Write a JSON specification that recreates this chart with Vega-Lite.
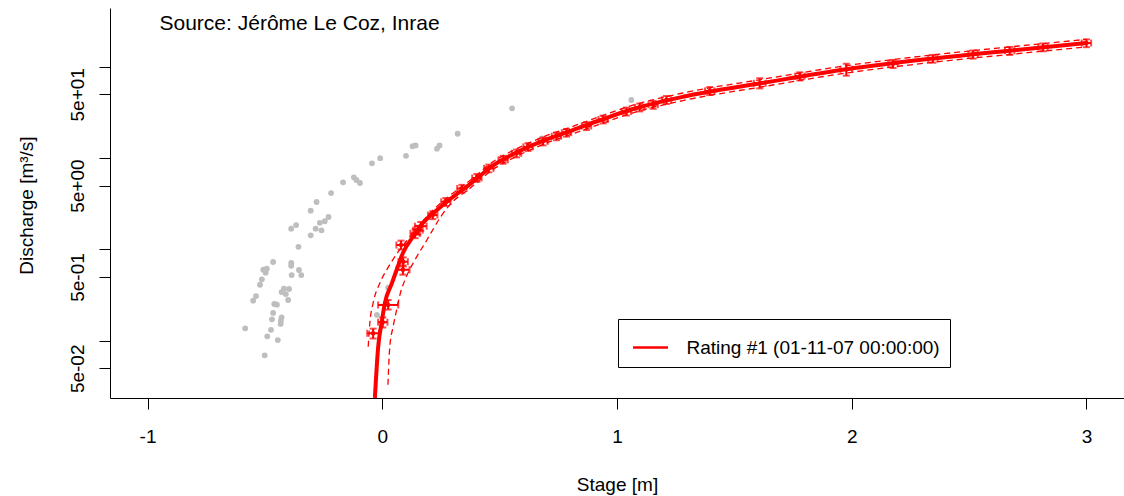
{
  "$schema": "https://vega.github.io/schema/vega-lite/v6.json",
  "width": 1014,
  "height": 390,
  "autosize": "none",
  "padding": {"left": 110, "top": 8, "right": 0, "bottom": 98},
  "background": "white",
  "config": {
    "font": "Liberation Sans",
    "view": {"stroke": null},
    "axis": {"grid": false, "domainColor": "black", "domainWidth": 1, "tickColor": "black", "tickSize": 11, "labelColor": "black", "labelFontSize": 19, "titleFontSize": 19, "titleFontWeight": "normal", "titleColor": "black", "labelFont": "Liberation Sans", "titleFont": "Liberation Sans"}
  },
  "title": {"text": "Source: Jérôme Le Coz, Inrae", "anchor": "start", "frame": "group", "orient": "top", "offset": 0, "dx": 49.5, "dy": 43, "baseline": "alphabetic", "fontSize": 21, "fontWeight": "normal", "color": "black", "font": "Liberation Sans"},
  "datasets": {
    "gray": [
      {"h": 0.321, "Q": 18.5}, {"h": 0.129, "Q": 13.5}, {"h": 0.142, "Q": 13.8}, {"h": 0.233, "Q": 12.7}, {"h": 0.244, "Q": 13.8},
      {"h": 0.101, "Q": 10.6}, {"h": -0.009, "Q": 10.0}, {"h": -0.044, "Q": 8.78}, {"h": -0.121, "Q": 6.17}, {"h": -0.110, "Q": 5.76},
      {"h": -0.095, "Q": 5.35}, {"h": -0.167, "Q": 5.44}, {"h": -0.218, "Q": 4.15}, {"h": -0.280, "Q": 3.31}, {"h": -0.305, "Q": 2.66},
      {"h": -0.229, "Q": 2.27}, {"h": -0.245, "Q": 2.04}, {"h": -0.266, "Q": 1.96}, {"h": -0.284, "Q": 1.69}, {"h": -0.259, "Q": 1.62},
      {"h": -0.367, "Q": 1.85}, {"h": -0.388, "Q": 1.69}, {"h": -0.305, "Q": 1.43}, {"h": -0.357, "Q": 1.07}, {"h": -0.465, "Q": 0.729},
      {"h": -0.492, "Q": 0.616}, {"h": -0.507, "Q": 0.60}, {"h": -0.497, "Q": 0.557}, {"h": -0.388, "Q": 0.711}, {"h": -0.388, "Q": 0.664},
      {"h": -0.355, "Q": 0.596}, {"h": -0.345, "Q": 0.525}, {"h": -0.386, "Q": 0.525}, {"h": -0.513, "Q": 0.471}, {"h": -0.521, "Q": 0.411},
      {"h": -0.419, "Q": 0.372}, {"h": -0.397, "Q": 0.369}, {"h": -0.429, "Q": 0.342}, {"h": -0.411, "Q": 0.325}, {"h": -0.401, "Q": 0.280},
      {"h": -0.538, "Q": 0.309}, {"h": -0.550, "Q": 0.275}, {"h": -0.460, "Q": 0.253}, {"h": -0.449, "Q": 0.249}, {"h": -0.465, "Q": 0.202},
      {"h": -0.429, "Q": 0.181}, {"h": -0.432, "Q": 0.166}, {"h": -0.470, "Q": 0.172}, {"h": -0.433, "Q": 0.153}, {"h": -0.474, "Q": 0.132},
      {"h": -0.584, "Q": 0.137}, {"h": -0.490, "Q": 0.112}, {"h": -0.445, "Q": 0.102}, {"h": -0.501, "Q": 0.0694}, {"h": 0.025, "Q": 0.381},
      {"h": -0.023, "Q": 0.192}, {"h": 0.553, "Q": 35.1}, {"h": 0.681, "Q": 16.5}, {"h": 1.061, "Q": 43.3}
    ],
    "curve": [
      {"h": -0.0315, "Q": 0.0237}, {"h": -0.0175, "Q": 0.0856}, {"h": -0.003, "Q": 0.157}, {"h": 0.011, "Q": 0.259}, {"h": 0.04, "Q": 0.42},
      {"h": 0.061, "Q": 0.596}, {"h": 0.088, "Q": 0.915}, {"h": 0.13, "Q": 1.37}, {"h": 0.173, "Q": 1.95}, {"h": 0.233, "Q": 2.70},
      {"h": 0.288, "Q": 3.55}, {"h": 0.37, "Q": 5.1}, {"h": 0.471, "Q": 8.3}, {"h": 0.573, "Q": 11.6}, {"h": 0.684, "Q": 15.5},
      {"h": 0.812, "Q": 20.3}, {"h": 0.927, "Q": 26}, {"h": 1.068, "Q": 34.5}, {"h": 1.281, "Q": 47}, {"h": 1.62, "Q": 66.5},
      {"h": 1.978, "Q": 94}, {"h": 2.345, "Q": 123}, {"h": 2.702, "Q": 153}, {"h": 3.0, "Q": 182}
    ],
    "upper": [
      {"h": -0.060, "Q": 0.086}, {"h": -0.053, "Q": 0.157}, {"h": -0.039, "Q": 0.259}, {"h": -0.010, "Q": 0.43}, {"h": 0.024, "Q": 0.63},
      {"h": 0.075, "Q": 1.0}, {"h": 0.139, "Q": 1.6}, {"h": 0.2, "Q": 2.45}, {"h": 0.288, "Q": 3.9}, {"h": 0.37, "Q": 5.6},
      {"h": 0.471, "Q": 9.1}, {"h": 0.573, "Q": 12.7}, {"h": 0.684, "Q": 17}, {"h": 0.812, "Q": 22.3}, {"h": 0.927, "Q": 28.6},
      {"h": 1.068, "Q": 38}, {"h": 1.281, "Q": 51.7}, {"h": 1.62, "Q": 73}, {"h": 1.978, "Q": 103}, {"h": 2.345, "Q": 135},
      {"h": 2.702, "Q": 168}, {"h": 3.0, "Q": 200}
    ],
    "lower": [
      {"h": 0.024, "Q": 0.033}, {"h": 0.032, "Q": 0.086}, {"h": 0.046, "Q": 0.142}, {"h": 0.061, "Q": 0.217}, {"h": 0.075, "Q": 0.317},
      {"h": 0.1, "Q": 0.487}, {"h": 0.139, "Q": 0.767}, {"h": 0.19, "Q": 1.27}, {"h": 0.25, "Q": 2.3}, {"h": 0.288, "Q": 3.1},
      {"h": 0.37, "Q": 4.6}, {"h": 0.471, "Q": 7.5}, {"h": 0.573, "Q": 10.5}, {"h": 0.684, "Q": 14.1}, {"h": 0.812, "Q": 18.5},
      {"h": 0.927, "Q": 23.6}, {"h": 1.068, "Q": 31.4}, {"h": 1.281, "Q": 42.7}, {"h": 1.62, "Q": 60.5}, {"h": 1.978, "Q": 85.5},
      {"h": 2.345, "Q": 112}, {"h": 2.702, "Q": 139}, {"h": 3.0, "Q": 165}
    ],
    "gaugings": [
      {"h": -0.039, "Q": 0.121, "hlo": -0.064, "hhi": -0.014, "Qlo": 0.106, "Qhi": 0.136},
      {"h": 0.025, "Q": 0.247, "hlo": -0.018, "hhi": 0.068, "Qlo": 0.22, "Qhi": 0.28},
      {"h": 0.002, "Q": 0.16, "hlo": -0.018, "hhi": 0.022, "Qlo": 0.14, "Qhi": 0.18},
      {"h": 0.088, "Q": 0.60, "hlo": 0.06, "hhi": 0.116, "Qlo": 0.53, "Qhi": 0.67},
      {"h": 0.089, "Q": 0.735, "hlo": 0.069, "hhi": 0.109, "Qlo": 0.65, "Qhi": 0.82},
      {"h": 0.08, "Q": 1.12, "hlo": 0.06, "hhi": 0.1, "Qlo": 1.0, "Qhi": 1.25},
      {"h": 0.152, "Q": 1.63, "hlo": 0.132, "hhi": 0.172, "Qlo": 1.45, "Qhi": 1.82},
      {"h": 0.164, "Q": 1.8, "hlo": 0.139, "hhi": 0.189, "Qlo": 1.6, "Qhi": 2.0},
      {"h": 0.14, "Q": 1.5, "hlo": 0.12, "hhi": 0.16, "Qlo": 1.33, "Qhi": 1.67},
      {"h": 0.215, "Q": 2.38, "hlo": 0.195, "hhi": 0.235, "Qlo": 2.15, "Qhi": 2.62},
      {"h": 0.271, "Q": 3.33, "hlo": 0.251, "hhi": 0.291, "Qlo": 3.0, "Qhi": 3.66},
      {"h": 0.339, "Q": 4.65, "hlo": 0.319, "hhi": 0.359, "Qlo": 4.2, "Qhi": 5.1},
      {"h": 0.403, "Q": 6.06, "hlo": 0.383, "hhi": 0.423, "Qlo": 5.5, "Qhi": 6.7},
      {"h": 0.454, "Q": 7.74, "hlo": 0.434, "hhi": 0.474, "Qlo": 7.0, "Qhi": 8.5},
      {"h": 0.515, "Q": 9.6, "hlo": 0.495, "hhi": 0.535, "Qlo": 8.7, "Qhi": 10.6},
      {"h": 0.572, "Q": 11.3, "hlo": 0.552, "hhi": 0.592, "Qlo": 10.2, "Qhi": 12.4},
      {"h": 0.621, "Q": 13.3, "hlo": 0.601, "hhi": 0.641, "Qlo": 12.0, "Qhi": 14.6},
      {"h": 0.685, "Q": 15.3, "hlo": 0.665, "hhi": 0.705, "Qlo": 13.8, "Qhi": 16.8},
      {"h": 0.742, "Q": 17.4, "hlo": 0.722, "hhi": 0.762, "Qlo": 15.7, "Qhi": 19.1},
      {"h": 0.785, "Q": 19.0, "hlo": 0.765, "hhi": 0.805, "Qlo": 17.2, "Qhi": 20.9},
      {"h": 0.870, "Q": 22.5, "hlo": 0.85, "hhi": 0.89, "Qlo": 20.3, "Qhi": 24.7},
      {"h": 0.941, "Q": 26.5, "hlo": 0.921, "hhi": 0.961, "Qlo": 24.0, "Qhi": 29.2},
      {"h": 1.04, "Q": 32.5, "hlo": 1.02, "hhi": 1.06, "Qlo": 29.3, "Qhi": 35.8},
      {"h": 1.097, "Q": 36, "hlo": 1.077, "hhi": 1.117, "Qlo": 32.5, "Qhi": 39.6},
      {"h": 1.154, "Q": 38.5, "hlo": 1.134, "hhi": 1.174, "Qlo": 34.7, "Qhi": 42.4},
      {"h": 1.211, "Q": 43.5, "hlo": 1.191, "hhi": 1.231, "Qlo": 39.2, "Qhi": 47.9},
      {"h": 1.395, "Q": 54.5, "hlo": 1.375, "hhi": 1.415, "Qlo": 49.1, "Qhi": 60},
      {"h": 1.608, "Q": 66, "hlo": 1.583, "hhi": 1.633, "Qlo": 58, "Qhi": 75},
      {"h": 1.779, "Q": 79, "hlo": 1.759, "hhi": 1.799, "Qlo": 71, "Qhi": 87},
      {"h": 1.977, "Q": 94, "hlo": 1.952, "hhi": 2.002, "Qlo": 80, "Qhi": 108},
      {"h": 2.176, "Q": 108, "hlo": 2.156, "hhi": 2.196, "Qlo": 97, "Qhi": 119},
      {"h": 2.346, "Q": 123, "hlo": 2.326, "hhi": 2.366, "Qlo": 111, "Qhi": 135},
      {"h": 2.517, "Q": 137, "hlo": 2.497, "hhi": 2.537, "Qlo": 123, "Qhi": 151},
      {"h": 2.673, "Q": 150, "hlo": 2.653, "hhi": 2.693, "Qlo": 135, "Qhi": 165},
      {"h": 2.815, "Q": 164, "hlo": 2.795, "hhi": 2.835, "Qlo": 148, "Qhi": 180},
      {"h": 3.0, "Q": 182, "hlo": 2.98, "hhi": 3.02, "Qlo": 164, "Qhi": 200}
    ],
    "legendRow": [{"series": "Rating #1 (01-11-07 00:00:00)"}]
  },
  "layer": [
    {
      "data": {"name": "gray"},
      "mark": {"type": "circle", "color": "#BEBEBE", "opacity": 1, "size": 34, "clip": true},
      "encoding": {
        "x": {"field": "h", "type": "quantitative", "title": "Stage [m]",
          "scale": {"domain": [-1.16, 3.16], "nice": false, "zero": false},
          "axis": {"values": [-1, 0, 1, 2, 3], "labelExpr": "'' + datum.value", "labelPadding": 18, "labelBaseline": "top", "titleX": 507, "titleY": 92, "titleBaseline": "alphabetic", "titleAlign": "center"}},
        "y": {"field": "Q", "type": "quantitative", "title": "Discharge  [m³/s]",
          "scale": {"type": "log", "domain": [0.02366, 440.6], "nice": false},
          "axis": {"values": [0.05, 0.1, 0.5, 1, 5, 10, 50, 100], "labelExpr": "datum.value == 0.05 ? '5e-02' : datum.value == 0.5 ? '5e-01' : datum.value == 5 ? '5e+00' : datum.value == 50 ? '5e+01' : ''", "labelAngle": -90, "labelAlign": "center", "labelBaseline": "alphabetic", "labelPadding": 16, "labelOverlap": false, "titleAngle": -90, "titleX": -77.5, "titleY": 197, "titleBaseline": "alphabetic", "titleAlign": "center"}}
      }
    },
    {
      "data": {"name": "upper"},
      "mark": {"type": "line", "color": "#FF0000", "strokeWidth": 1.3, "strokeDash": [6, 4], "interpolate": "monotone", "clip": true},
      "encoding": {
        "x": {"field": "h", "type": "quantitative", "title": "Stage [m]", "scale": {"domain": [-1.16, 3.16], "nice": false, "zero": false}},
        "y": {"field": "Q", "type": "quantitative", "title": "Discharge  [m³/s]", "scale": {"type": "log", "domain": [0.02366, 440.6], "nice": false}}
      }
    },
    {
      "data": {"name": "lower"},
      "mark": {"type": "line", "color": "#FF0000", "strokeWidth": 1.3, "strokeDash": [6, 4], "interpolate": "monotone", "clip": true},
      "encoding": {
        "x": {"field": "h", "type": "quantitative", "title": "Stage [m]", "scale": {"domain": [-1.16, 3.16], "nice": false, "zero": false}},
        "y": {"field": "Q", "type": "quantitative", "title": "Discharge  [m³/s]", "scale": {"type": "log", "domain": [0.02366, 440.6], "nice": false}}
      }
    },
    {
      "data": {"name": "curve"},
      "mark": {"type": "line", "color": "#FF0000", "strokeWidth": 4, "interpolate": "monotone", "clip": true},
      "encoding": {
        "x": {"field": "h", "type": "quantitative", "title": "Stage [m]", "scale": {"domain": [-1.16, 3.16], "nice": false, "zero": false}},
        "y": {"field": "Q", "type": "quantitative", "title": "Discharge  [m³/s]", "scale": {"type": "log", "domain": [0.02366, 440.6], "nice": false}}
      }
    },
    {
      "data": {"name": "gaugings"},
      "mark": {"type": "errorbar", "ticks": true, "size": 7, "thickness": 2, "color": "#FF0000", "clip": true},
      "encoding": {
        "x": {"field": "hlo", "type": "quantitative", "title": "Stage [m]", "scale": {"domain": [-1.16, 3.16], "nice": false, "zero": false}},
        "x2": {"field": "hhi"},
        "y": {"field": "Q", "type": "quantitative", "title": "Discharge  [m³/s]", "scale": {"type": "log", "domain": [0.02366, 440.6], "nice": false}}
      }
    },
    {
      "data": {"name": "gaugings"},
      "mark": {"type": "errorbar", "ticks": true, "size": 7, "thickness": 2, "color": "#FF0000", "clip": true},
      "encoding": {
        "x": {"field": "h", "type": "quantitative", "title": "Stage [m]", "scale": {"domain": [-1.16, 3.16], "nice": false, "zero": false}},
        "y": {"field": "Qlo", "type": "quantitative", "title": "Discharge  [m³/s]", "scale": {"type": "log", "domain": [0.02366, 440.6], "nice": false}},
        "y2": {"field": "Qhi"}
      }
    },
    {
      "data": {"name": "gaugings"},
      "mark": {"type": "circle", "color": "#FF0000", "opacity": 1, "size": 20, "clip": true},
      "encoding": {
        "x": {"field": "h", "type": "quantitative", "title": "Stage [m]", "scale": {"domain": [-1.16, 3.16], "nice": false, "zero": false}},
        "y": {"field": "Q", "type": "quantitative", "title": "Discharge  [m³/s]", "scale": {"type": "log", "domain": [0.02366, 440.6], "nice": false}}
      }
    },
    {
      "data": {"name": "legendRow"},
      "mark": {"type": "rule", "strokeWidth": 0},
      "encoding": {
        "color": {"field": "series", "type": "nominal", "scale": {"range": ["#FF0000"]},
          "legend": {"orient": "none", "legendX": 508, "legendY": 311, "title": null, "symbolType": "stroke", "symbolSize": 1225, "symbolStrokeWidth": 2.5, "symbolStrokeColor": "#FF0000", "symbolOffset": 4, "labelFontSize": 19, "labelFont": "Liberation Sans", "labelColor": "black", "labelOffset": 17, "labelLimit": 0, "padding": 9.5, "strokeColor": "black", "fillColor": "white", "cornerRadius": 0}}
      }
    },
    {
      "mark": {"type": "rule", "color": "black", "strokeWidth": 1},
      "encoding": {
        "y": {"datum": 435.1, "type": "quantitative", "scale": {"type": "log", "domain": [0.02366, 440.6], "nice": false}}
      }
    }
  ]
}
